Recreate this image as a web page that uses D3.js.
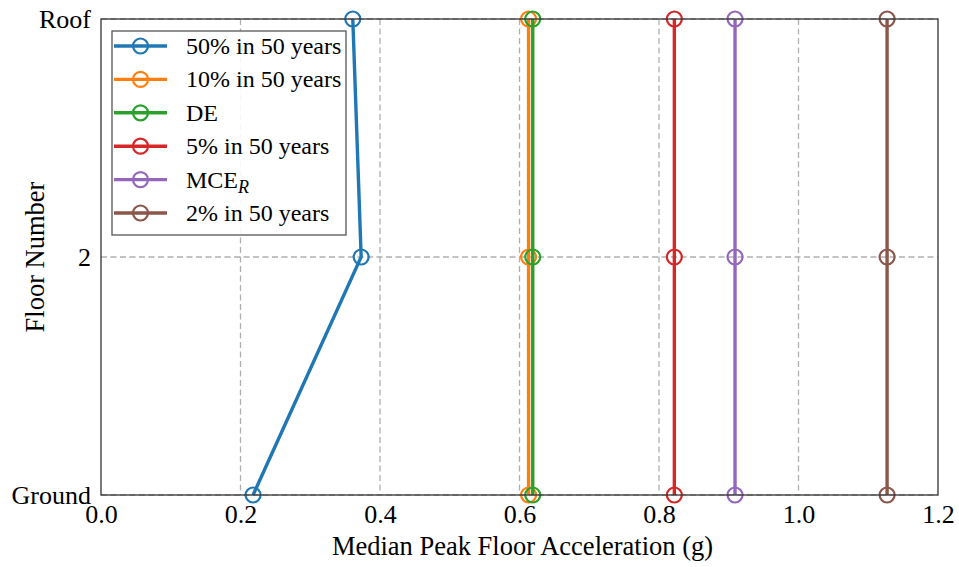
<!DOCTYPE html>
<html><head><meta charset="utf-8">
<script src="https://cdn.jsdelivr.net/npm/d3@7"></script>
<style>body{margin:0;background:#fff}svg text{font-family:"Liberation Serif","Times New Roman",serif;}</style>
</head><body>
<svg id="c" width="959" height="567"></svg>
<script>
const floors = ["Ground", "2", "Roof"];
const seriesNames = ["50% in 50 years", "10% in 50 years", "DE", "5% in 50 years", "MCE_R", "2% in 50 years"];
const colors = ["#1f77b4", "#ff7f0e", "#2ca02c", "#d62728", "#9467bd", "#8c564b"];
const s50 = [0.218, 0.373, 0.361];
const s10 = [0.613, 0.613, 0.613];
const sDE = [0.619, 0.619, 0.619];
const s5 = [0.822, 0.822, 0.822];
const sMCE = [0.909, 0.909, 0.909];
const s2 = [1.127, 1.127, 1.127];
const xTicks = [0, 0.2, 0.4, 0.6, 0.8, 1.0, 1.2];
const allSeries = [s50, s10, sDE, s5, sMCE, s2];

const svg = d3.select("#c");
const L = 101, R = 938, T = 19, B = 495;
const x = d3.scaleLinear().domain([0, 1.2]).range([L, R]);
const y = d3.scalePoint().domain(floors).range([B, T]);

// grid
const g = svg.append("g");
g.selectAll(".gx").data(xTicks.slice(1, -1)).enter().append("line")
  .attr("x1", d => x(d)).attr("x2", d => x(d)).attr("y1", T).attr("y2", B)
  .attr("stroke", "#b0b0b0").attr("stroke-width", 1.3).attr("stroke-dasharray", "6,3.5");
g.selectAll(".gy").data(floors).enter().append("line")
  .attr("x1", L).attr("x2", R).attr("y1", d => y(d)).attr("y2", d => y(d))
  .attr("stroke", "#b0b0b0").attr("stroke-width", 1.3).attr("stroke-dasharray", "6,3.5");

// axes
const xAxis = d3.axisBottom(x).tickValues(xTicks).tickFormat(d3.format(".1f")).tickSize(0).tickPadding(10);
const xa = svg.append("g").attr("transform", `translate(0,${B})`).call(xAxis);
xa.select(".domain").remove();
xa.selectAll("text").attr("font-size", 26).attr("fill", "#000").style("font-family", "Liberation Serif");
const yAxis = d3.axisLeft(y).tickSize(0).tickPadding(10);
const ya = svg.append("g").attr("transform", `translate(${L},0)`).call(yAxis);
ya.select(".domain").remove();
ya.selectAll("text").attr("font-size", 26).attr("fill", "#000").style("font-family", "Liberation Serif");

// series
const line = d3.line().x(d => x(d.v)).y(d => y(d.f));
allSeries.forEach((s, i) => {
  const pts = s.map((v, k) => ({v, f: floors[k]}));
  svg.append("path").datum(pts).attr("d", line).attr("fill", "none")
    .attr("stroke", colors[i]).attr("stroke-width", 3.4);
  svg.selectAll(null).data(pts).enter().append("circle")
    .attr("cx", d => x(d.v)).attr("cy", d => y(d.f)).attr("r", 7.5)
    .attr("fill", "none").attr("stroke", colors[i]).attr("stroke-width", 2.2);
});

// frame
svg.append("rect").attr("x", L).attr("y", T).attr("width", R - L).attr("height", B - T)
  .attr("fill", "none").attr("stroke", "#333").attr("stroke-width", 1.3);

// legend
const lg = svg.append("g");
lg.append("rect").attr("x", 112).attr("y", 31).attr("width", 234).attr("height", 204)
  .attr("fill", "#fff").attr("fill-opacity", 0.9).attr("stroke", "#555").attr("stroke-width", 1.3);
seriesNames.forEach((n, i) => {
  const yy = 46 + i * 33.4;
  lg.append("line").attr("x1", 114).attr("x2", 167).attr("y1", yy).attr("y2", yy)
    .attr("stroke", colors[i]).attr("stroke-width", 3.4);
  lg.append("circle").attr("cx", 140.5).attr("cy", yy).attr("r", 7.5)
    .attr("fill", "none").attr("stroke", colors[i]).attr("stroke-width", 2.2);
  const t = lg.append("text").attr("x", 186).attr("y", yy + 8).attr("font-size", 24).attr("fill", "#000");
  if (n === "MCE_R") {
    t.append("tspan").text("MCE");
    t.append("tspan").attr("font-style", "italic").attr("font-size", 18).attr("dy", 5).text("R");
  } else t.text(n);
});

// labels
svg.append("text").attr("x", (L + R) / 2 + 3).attr("y", 555).attr("text-anchor", "middle")
  .attr("font-size", 26.5).attr("fill", "#000").text("Median Peak Floor Acceleration (g)");
svg.append("text").attr("transform", `translate(44,${(T + B) / 2}) rotate(-90)`).attr("text-anchor", "middle")
  .attr("font-size", 26.5).attr("fill", "#000").text("Floor Number");
</script>
</body></html>
